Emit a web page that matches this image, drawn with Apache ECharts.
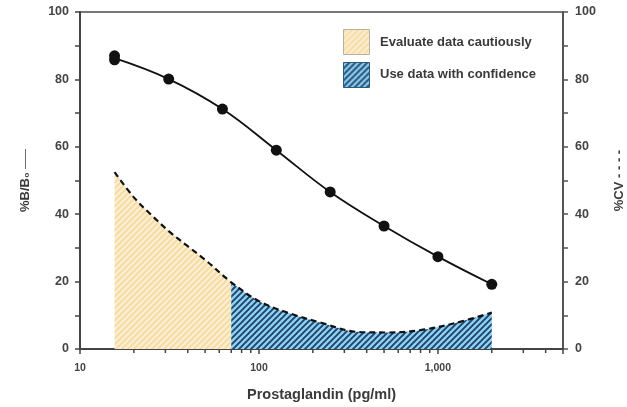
<!DOCTYPE html>
<html>
<head>
<meta charset="utf-8">
<script src="https://cdn.jsdelivr.net/npm/echarts@6/dist/echarts.min.js"></script>
<style>
html,body{margin:0;padding:0;background:#fff;}
#c{width:627px;height:407px;}
</style>
</head>
<body>
<div id="c"></div>
<script>
// ---- data ----
const conc = [15.6, 31.3, 62.5, 125, 250, 500, 1000, 2000];
const bb0Curve = [86.3, 80.1, 71.2, 59.0, 46.6, 36.5, 27.4, 19.2];
const pointConc = [15.6, 15.6, 31.3, 62.5, 125, 250, 500, 1000, 2000];
const pointBB0 = [87.0, 85.8, 80.1, 71.2, 59.0, 46.6, 36.5, 27.4, 19.2];
const cvConc = [15.6, 20, 25, 31.3, 40, 50, 70, 100, 150, 225, 350, 525, 800, 1250, 2000];
const cvValues = [52.5, 45.0, 39.8, 35.0, 30.5, 26.5, 19.8, 14.2, 10.5, 7.7, 5.1, 4.9, 5.6, 7.7, 10.8];
const cautionLimit = 70;
const xMinorTicks = [20, 30, 40, 50, 60, 70, 80, 90, 200, 300, 400, 500, 600, 700, 800, 900, 2000, 3000, 4000];
const xTickLabels = [10, 100, 1000];
const yTickLabels = [0, 20, 40, 60, 80, 100];
const legendLabels = ['Evaluate data cautiously', 'Use data with confidence'];
const xTitle = 'Prostaglandin (pg/ml)';

const FONT = "'Liberation Sans', Arial, sans-serif";

function stripes(bg, fg, P, lw) {
  const c = document.createElement('canvas');
  c.width = P; c.height = P;
  const g = c.getContext('2d');
  g.fillStyle = bg; g.fillRect(0, 0, P, P);
  g.strokeStyle = fg; g.lineWidth = lw; g.lineCap = 'square';
  g.beginPath();
  g.moveTo(0, P); g.lineTo(P, 0);
  g.moveTo(-P / 2, P / 2); g.lineTo(P / 2, -P / 2);
  g.moveTo(P / 2, P * 1.5); g.lineTo(P * 1.5, P / 2);
  g.stroke();
  return c;
}
const mkYellow = () => ({ image: stripes('#f6dca2', '#fcefd4', 6, 2.2), repeat: 'repeat' });
const mkBlue = () => ({ image: stripes('#8fd0f6', '#1d4465', 6, 1.9), repeat: 'repeat' });

const pairs = (xs, ys) => xs.map((x, i) => [x, ys[i]]);
const cvAll = pairs(cvConc, cvValues);
const cvCaution = cvAll.filter(d => d[0] <= cautionLimit);
const cvConfident = cvAll.filter(d => d[0] >= cautionLimit);

const yLabelFmt = v => (yTickLabels.indexOf(v) >= 0 ? String(v) : '');
const xLabelFmt = v => (xTickLabels.indexOf(Math.round(v)) >= 0 ? Math.round(v).toLocaleString('en-US') : '');

const chart = echarts.init(document.getElementById('c'), null, { renderer: 'canvas' });
chart.setOption({
  animation: false,
  backgroundColor: '#fff',
  textStyle: { fontFamily: FONT },
  grid: { left: 80, right: 64, top: 12, bottom: 58, containLabel: false, outerBoundsMode: 'none',
          show: true, borderColor: '#777', borderWidth: 2, backgroundColor: 'transparent' },
  xAxis: [{
    type: 'log', logBase: 10, min: 10, max: 5000,
    name: xTitle, nameLocation: 'middle', nameGap: 38,
    nameTextStyle: { fontFamily: FONT, fontWeight: 'bold', fontSize: 14.5, color: '#3a3a3a' },
    axisLine: { show: true, onZero: false, lineStyle: { color: '#444', width: 2 } },
    axisTick: { show: true, length: 5, lineStyle: { color: '#444', width: 1.5 } },
    minorTick: { show: false },
    splitLine: { show: false },
    axisLabel: { formatter: xLabelFmt, margin: 14, fontFamily: FONT, fontWeight: 'bold', fontSize: 10.5, color: '#444' }
  }],
  yAxis: [{
    type: 'value', min: 0, max: 100, interval: 10, position: 'left',
    name: '{a|%B/B₀} {d|——}', nameLocation: 'middle', nameGap: 48, nameRotate: 90,
    nameTextStyle: { color: '#3a3a3a', rich: {
      a: { fontFamily: FONT, fontWeight: 'bold', fontSize: 13, color: '#3a3a3a' },
      d: { fontFamily: FONT, fontSize: 10, color: '#3a3a3a' } } },
    axisLine: { show: true, lineStyle: { color: '#444', width: 2 } },
    axisTick: { show: true, length: 5, lineStyle: { color: '#444', width: 1.5 } },
    splitLine: { show: false },
    axisLabel: { formatter: yLabelFmt, margin: 11, fontFamily: FONT, fontWeight: 'bold', fontSize: 12.5, color: '#444' }
  }, {
    type: 'value', min: 0, max: 100, interval: 10, position: 'right',
    name: '%CV - - - -', nameLocation: 'middle', nameGap: 50, nameRotate: 90,
    nameTextStyle: { fontFamily: FONT, fontWeight: 'bold', fontSize: 13, color: '#3a3a3a' },
    axisLine: { show: true, lineStyle: { color: '#555', width: 2 } },
    axisTick: { show: true, length: 5, lineStyle: { color: '#555', width: 1.5 } },
    splitLine: { show: false },
    axisLabel: { formatter: yLabelFmt, margin: 12, fontFamily: FONT, fontWeight: 'bold', fontSize: 12.5, color: '#444' }
  }],
  graphic: [
    { type: 'rect', left: 343, top: 29, shape: { width: 26, height: 25 }, style: { fill: mkYellow(), stroke: '#b9b0a0', lineWidth: 1 }, z: 10 },
    { type: 'rect', left: 343, top: 62, shape: { width: 26, height: 25 }, style: { fill: mkBlue(), stroke: '#2c5a7c', lineWidth: 1 }, z: 10 },
    { type: 'text', left: 380, top: 36, style: { text: legendLabels[0], font: "bold 13px 'Liberation Sans', Arial, sans-serif", fill: '#3a3a3a' }, z: 10 },
    { type: 'text', left: 380, top: 68, style: { text: legendLabels[1], font: "bold 13px 'Liberation Sans', Arial, sans-serif", fill: '#3a3a3a' }, z: 10 }
  ],
  series: [
    {
      type: 'line', name: 'caution', xAxisIndex: 0, yAxisIndex: 1, data: cvCaution,
      smooth: 0.35, showSymbol: false, lineStyle: { width: 0 },
      areaStyle: { color: mkYellow(), opacity: 1 }, z: 1, silent: true
    },
    {
      type: 'line', name: 'confidence', xAxisIndex: 0, yAxisIndex: 1, data: cvConfident,
      smooth: 0.35, showSymbol: false, lineStyle: { width: 0 },
      areaStyle: { color: mkBlue(), opacity: 1 }, z: 1, silent: true
    },
    {
      type: 'line', name: '%CV', xAxisIndex: 0, yAxisIndex: 1, data: cvAll,
      smooth: 0.35, showSymbol: false,
      lineStyle: { color: '#111', width: 2.2, type: [6, 4] }, z: 3, silent: true
    },
    {
      type: 'line', name: '%B/B0 curve', xAxisIndex: 0, yAxisIndex: 0, data: pairs(conc, bb0Curve),
      smooth: 0.4, showSymbol: false,
      lineStyle: { color: '#111', width: 1.8 }, z: 4, silent: true
    },
    {
      type: 'scatter', name: '%B/B0', xAxisIndex: 0, yAxisIndex: 0, data: pairs(pointConc, pointBB0),
      symbol: 'circle', symbolSize: 11, itemStyle: { color: '#111', opacity: 1 }, z: 5, silent: true
    },
    {
      type: 'custom', name: 'minor ticks', xAxisIndex: 0, yAxisIndex: 0, clip: false, silent: true, z: 6,
      data: xMinorTicks.map(v => [v, 0]),
      renderItem: function (params, api) {
        const p = api.coord([api.value(0), 0]);
        return { type: 'line', shape: { x1: p[0], y1: p[1] + 1, x2: p[0], y2: p[1] + 4 },
                 style: { stroke: '#444', lineWidth: 1.5 } };
      }
    }
  ]
});
</script>
</body>
</html>
